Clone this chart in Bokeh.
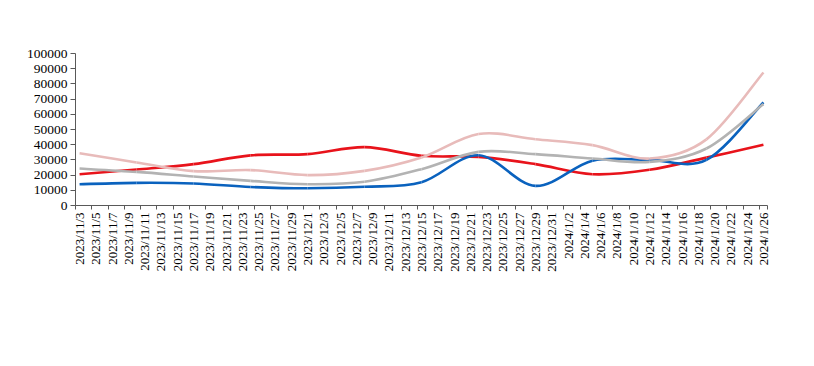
import pandas as pd
from bokeh.plotting import figure
from bokeh.models import (Range1d, FixedTicker, NumeralTickFormatter, Legend, LegendItem,
                          Label, BoxAnnotation, ColumnDataSource)
from bokeh.embed import file_html
from bokeh.resources import INLINE

# ---------------- data ----------------
DATES = ["2023-11-03", "2023-11-10", "2023-11-17", "2023-11-24", "2023-12-01", "2023-12-08",
         "2023-12-15", "2023-12-22", "2023-12-29", "2024-01-05", "2024-01-12", "2024-01-19",
         "2024-01-26"]
MR_TCE = [20600, 23700, 27200, 33000, 33800, 38400, 32700, 32000, 27200, 20600, 23500, 31500, 39900]
MR_GULF_EUROPE = [14000, 14900, 14500, 12200, 11300, 12300, 15300, 33100, 12900, 29500, 30000, 30000, 67800]
LR1_GULF_JAPAN = [24300, 22100, 19100, 16200, 14000, 15600, 23900, 35300, 33800, 30900, 28700, 37500, 66700]
LR2_GULF_JAPAN = [34400, 28300, 22600, 23300, 20000, 22800, 31600, 47000, 43600, 39700, 30900, 43500, 87500]

SERIES_NAMES = ["MR-TCE", "MR:中东湾-欧陆", "LR1:中东湾-日本", "LR2:中东湾-日本"]
SERIES_COLORS = ["#E8131B", "#0A62BE", "#B3B3B3", "#E8BBBA"]

Y_TICKS = [0, 10000, 20000, 30000, 40000, 50000, 60000, 70000, 80000, 90000, 100000]
LABEL_DATES = pd.date_range("2023-11-03", "2024-01-26", freq="2D")
TICK_LABELS = [f"{d.year}/{d.month}/{d.day}" for d in LABEL_DATES]

TITLE = "图表 11  成品油轮分船型 TCE 表现（$/day）"
SOURCE = "资料来源：Clarksons，华创证券"

NAVY = "#1F3A75"
AXIS = "#595959"
SERIF = "Liberation Serif"

# ---------------- helpers ----------------
origin = pd.Timestamp(DATES[0])
xs = [float((pd.Timestamp(d) - origin).days) for d in DATES]
label_pos = [float((d - origin).days) for d in LABEL_DATES]


def smooth(x, y):
    """cubic Bezier segments through the points (Excel-style smoothed line)"""
    n = len(x)
    d = dict(x0=[], y0=[], x1=[], y1=[], cx0=[], cy0=[], cx1=[], cy1=[])
    for i in range(n - 1):
        p0 = (x[i - 1], y[i - 1]) if i > 0 else (x[i], y[i])
        p1 = (x[i], y[i])
        p2 = (x[i + 1], y[i + 1])
        p3 = (x[i + 2], y[i + 2]) if i + 2 < n else (x[i + 1], y[i + 1])
        d["x0"].append(p1[0]); d["y0"].append(p1[1])
        d["x1"].append(p2[0]); d["y1"].append(p2[1])
        d["cx0"].append(p1[0] + (p2[0] - p0[0]) / 6.0)
        d["cy0"].append(p1[1] + (p2[1] - p0[1]) / 6.0)
        d["cx1"].append(p2[0] - (p3[0] - p1[0]) / 6.0)
        d["cy1"].append(p2[1] - (p3[1] - p1[1]) / 6.0)
    return ColumnDataSource(d)


# ---------------- figure ----------------
p = figure(width=798, height=350, output_backend="svg", toolbar_location=None,
           x_range=Range1d(-0.5, 84.5), y_range=Range1d(0, 100000),
           min_border_left=75, min_border_right=31, min_border_top=53, min_border_bottom=145)
p.outline_line_color = None
p.xgrid.grid_line_color = None
p.ygrid.grid_line_color = None
p.background_fill_color = "white"

# x axis
xa = p.xaxis[0]
xa.ticker = FixedTicker(ticks=label_pos, minor_ticks=[v - 0.5 for v in label_pos] + [84.5])
xa.major_label_overrides = {v: t for v, t in zip(label_pos, TICK_LABELS)}
xa.major_label_orientation = 1.5707963
xa.major_tick_out = 0
xa.major_tick_in = 0
xa.minor_tick_out = 4
xa.minor_tick_in = 0
xa.minor_tick_line_color = AXIS
xa.axis_line_color = AXIS
xa.major_label_text_font = SERIF
xa.major_label_text_font_size = "13px"
xa.major_label_text_color = "black"
xa.major_label_standoff = 3

# y axis
ya = p.yaxis[0]
ya.ticker = FixedTicker(ticks=Y_TICKS)
ya.formatter = NumeralTickFormatter(format="0")
ya.major_tick_out = 5
ya.major_tick_in = 0
ya.minor_tick_out = 0
ya.minor_tick_in = 0
ya.major_tick_line_color = AXIS
ya.axis_line_color = AXIS
ya.major_label_text_font = SERIF
ya.major_label_text_font_size = "13.5px"
ya.major_label_text_color = "black"
ya.major_label_standoff = 3

# series
items = []
for name, color, vals in zip(SERIES_NAMES, SERIES_COLORS,
                             [MR_TCE, MR_GULF_EUROPE, LR1_GULF_JAPAN, LR2_GULF_JAPAN]):
    src = smooth(xs, vals)
    r = p.bezier(x0="x0", y0="y0", x1="x1", y1="y1", cx0="cx0", cy0="cy0", cx1="cx1", cy1="cy1",
                 source=src, line_color=color, line_width=2.6)
    items.append(LegendItem(label=name, renderers=[r]))

legend = Legend(items=items, orientation="horizontal", location=(14, -108),
                label_text_font=SERIF, label_text_font_size="13px", label_text_color="black",
                glyph_width=30, glyph_height=14, label_standoff=3, spacing=20,
                padding=0, margin=0, border_line_color=None, background_fill_alpha=0)
p.add_layout(legend, "center")

# title, rules, source
p.add_layout(Label(x=-75, y=195, x_units="screen", y_units="screen", text=TITLE,
                   text_font=SERIF, text_font_size="19px", text_font_style="bold",
                   text_color=NAVY, text_baseline="middle", text_align="left"))
p.add_layout(BoxAnnotation(left=-75, right=723, top=178.5, bottom=176,
                           left_units="screen", right_units="screen",
                           top_units="screen", bottom_units="screen",
                           fill_color=NAVY, fill_alpha=1, line_color=None))
p.add_layout(BoxAnnotation(left=-75, right=723, top=-125, bottom=-127,
                           left_units="screen", right_units="screen",
                           top_units="screen", bottom_units="screen",
                           fill_color=NAVY, fill_alpha=1, line_color=None))
p.add_layout(Label(x=-75, y=-139, x_units="screen", y_units="screen", text=SOURCE,
                   text_font=SERIF, text_font_size="14px", text_font_style="italic",
                   text_color=NAVY, text_baseline="middle", text_align="left"))

open("out.html", "w").write(file_html(p, INLINE))
